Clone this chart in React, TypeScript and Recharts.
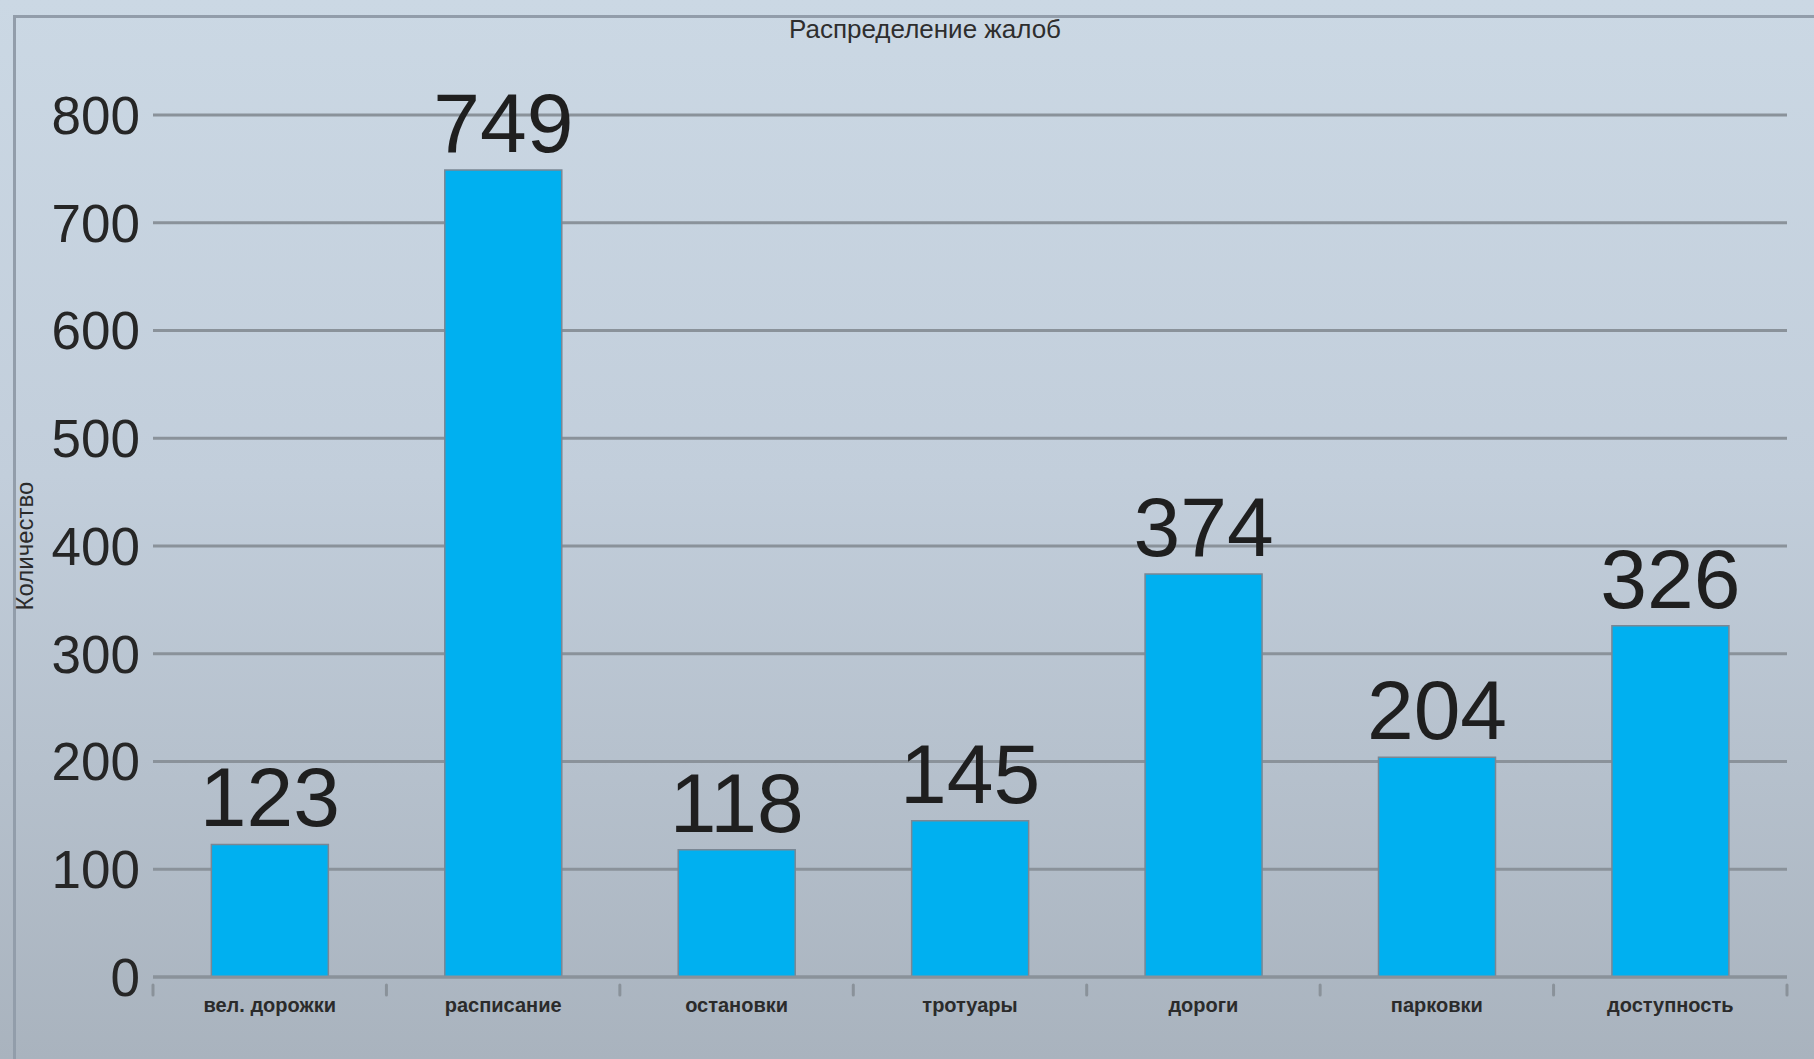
import React from 'react';
import { BarChart, Bar, XAxis, YAxis, CartesianGrid, LabelList } from 'recharts';

const categories = ['вел. дорожки', 'расписание', 'остановки', 'тротуары', 'дороги', 'парковки', 'доступность'];
const complaints = [123, 749, 118, 145, 374, 204, 326];
const yTicks = [0, 100, 200, 300, 400, 500, 600, 700, 800];
const chartTitle = 'Распределение жалоб';
const yAxisTitle = 'Количество';

const data = categories.map((name, i) => ({ name, value: complaints[i] }));

const GRID = '#8a929a';
const FONT = '"Liberation Sans", Arial, sans-serif';

const XTick = (props: any) => {
  const { x, y, payload, index, visibleTicksCount } = props;
  const off = payload && payload.offset ? payload.offset : 0;
  const last = index === (visibleTicksCount ?? categories.length) - 1;
  return (
    <g>
      <line x1={x - off} x2={x - off} y1={y} y2={y + 10} stroke={GRID} strokeWidth={3} strokeLinecap="round" />
      {last && <line x1={x + off} x2={x + off} y1={y} y2={y + 10} stroke={GRID} strokeWidth={3} strokeLinecap="round" />}
      <text x={x} y={y + 27} textAnchor="middle" fontSize={20} fill="#2b2b2b" fontFamily={FONT} fontWeight="bold">
        {payload.value}
      </text>
    </g>
  );
};

const YLabel = (props: any) => {
  const vb = props.viewBox || { x: 0, y: 115, width: 153, height: 862 };
  const cx = vb.x + 24;
  const cy = vb.y + vb.height / 2;
  return (
    <text x={cx} y={cy} transform={`rotate(-90 ${cx} ${cy})`} textAnchor="middle" dominantBaseline="central" fontSize={24} fill="#2b2b2b" fontFamily={FONT}>
      {yAxisTitle}
    </text>
  );
};

export default function App() {
  return (
    <div
      style={{
        position: 'absolute',
        left: 0,
        top: 0,
        width: 1814,
        height: 1059,
        overflow: 'hidden',
        background: 'linear-gradient(to bottom, #cbd8e4 0%, #c2cedb 45%, #a9b3be 100%)',
        fontFamily: FONT,
      }}
    >
      <div
        style={{
          position: 'absolute',
          left: 13,
          top: 15,
          width: 1814,
          height: 1100,
          borderLeft: '3px solid #929daa',
          borderTop: '3px solid #929daa',
          boxSizing: 'border-box',
        }}
      />
      <div style={{ position: 'absolute', left: 0, top: 0 }}>
        <BarChart width={1814} height={1059} data={data} margin={{ top: 115, right: 27, left: 0, bottom: 0 }} barCategoryGap="25%">
          <CartesianGrid vertical={false} stroke={GRID} strokeWidth={3} />
          <XAxis
            dataKey="name"
            height={82}
            axisLine={{ stroke: GRID, strokeWidth: 3 }}
            tickLine={false}
            tick={<XTick />}
            interval={0}
          />
          <YAxis
            width={153}
            domain={[0, 800]}
            ticks={yTicks}
            axisLine={false}
            tickLine={false}
            tickSize={0}
            tickMargin={13}
            tick={{ fontSize: 53, fill: '#262626', fontFamily: FONT }}
            label={{ content: <YLabel /> }}
          />
          <Bar dataKey="value" fill="#00b0f0" stroke="#7a8794" strokeWidth={1.5} isAnimationActive={false}>
            <LabelList dataKey="value" position="top" offset={18} fontSize={84} fill="#1f1f1f" fontFamily={FONT} />
          </Bar>
        </BarChart>
      </div>
      <svg width={1814} height={1059} style={{ position: 'absolute', left: 0, top: 0, pointerEvents: 'none' }}>
        <text x={925} y={38} textAnchor="middle" fontSize={26} fill="#2e2e2e" fontFamily={FONT}>
          {chartTitle}
        </text>
      </svg>
    </div>
  );
}
